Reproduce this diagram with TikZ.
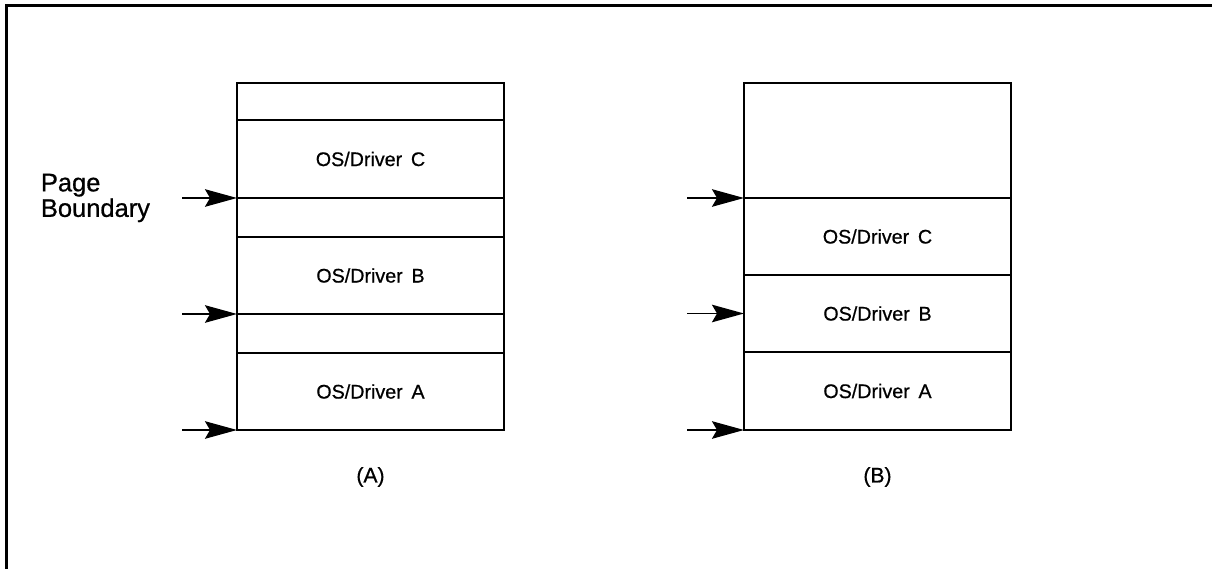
\documentclass[tikz,border=0pt]{standalone}
\usepackage{fontspec}
\setmainfont[FakeBold=0.7]{Liberation Sans}
\usetikzlibrary{positioning,arrows.meta}

\begin{document}
\begin{tikzpicture}[node distance=0cm, outer sep=0pt]
    % Define styles
    \tikzstyle{slot}=[rectangle, draw=black, line width=1pt, minimum width=5.34cm, inner sep=0pt, font=\fontsize{11.2}{13}\selectfont]
    \tikzstyle{arrow}=[-{Stealth[length=0.64cm, width=0.35cm, inset=0.1cm]}, line width=1pt]
    \tikzstyle{caption}=[font=\fontsize{12}{13}\selectfont]
    \tikzstyle{note}=[align=left, inner sep=0pt, font=\fontsize{14.5}{11.6}\selectfont]

    \useasboundingbox (0,0) rectangle (24.24,-11.38);

    % Frame
    \draw[line width=1.6pt] (0.13,-11.38) |- (24.24,-0.106);

    % Layout (A)
    \node[slot, minimum height=0.74cm, anchor=north west] (aTop) at (4.74,-1.66) {};
    \node[slot, minimum height=1.56cm, below=of aTop] (aC) {OS/Driver\, C};
    \node[slot, minimum height=0.78cm, below=of aC] (aGapB) {};
    \node[slot, minimum height=1.54cm, below=of aGapB] (aB) {OS/Driver\, B};
    \node[slot, minimum height=0.78cm, below=of aB] (aGapA) {};
    \node[slot, minimum height=1.54cm, below=of aGapA] (aA) {OS/Driver\, A};
    \node[caption] (capA) at ([yshift=-0.94cm]aA.south) {(A)};

    % Layout (B)
    \node[slot, minimum height=2.30cm, anchor=north west] (bTop) at (14.88,-1.66) {};
    \node[slot, minimum height=1.54cm, below=of bTop] (bC) {OS/Driver\, C};
    \node[slot, minimum height=1.54cm, below=of bC] (bB) {OS/Driver\, B};
    \node[slot, minimum height=1.56cm, below=of bB] (bA) {OS/Driver\, A};
    \node[caption] (capB) at ([yshift=-0.94cm]bA.south) {(B)};

    % Page boundaries
    \coordinate (tailA3) at ([xshift=-1.1cm]aC.south west);
    \coordinate (tailA2) at ([xshift=-1.1cm]aB.south west);
    \coordinate (tailA1) at ([xshift=-1.1cm]aA.south west);
    \coordinate (tailB3) at ([xshift=-1.14cm]bTop.south west);
    \coordinate (tailB2) at ([xshift=-1.14cm]bB.west);
    \coordinate (tailB1) at ([xshift=-1.14cm]bA.south west);
    \node[note, left=0.64cm of tailA3] (boundary) {Page\\Boundary};

    \draw[arrow] (tailA3) -- (aC.south west);
    \draw[arrow] (tailA2) -- (aB.south west);
    \draw[arrow] (tailA1) -- (aA.south west);
    \draw[arrow] (tailB3) -- (bTop.south west);
    \draw[arrow] (tailB2) -- (bB.west);
    \draw[arrow] (tailB1) -- (bA.south west);
\end{tikzpicture}
\end{document}
